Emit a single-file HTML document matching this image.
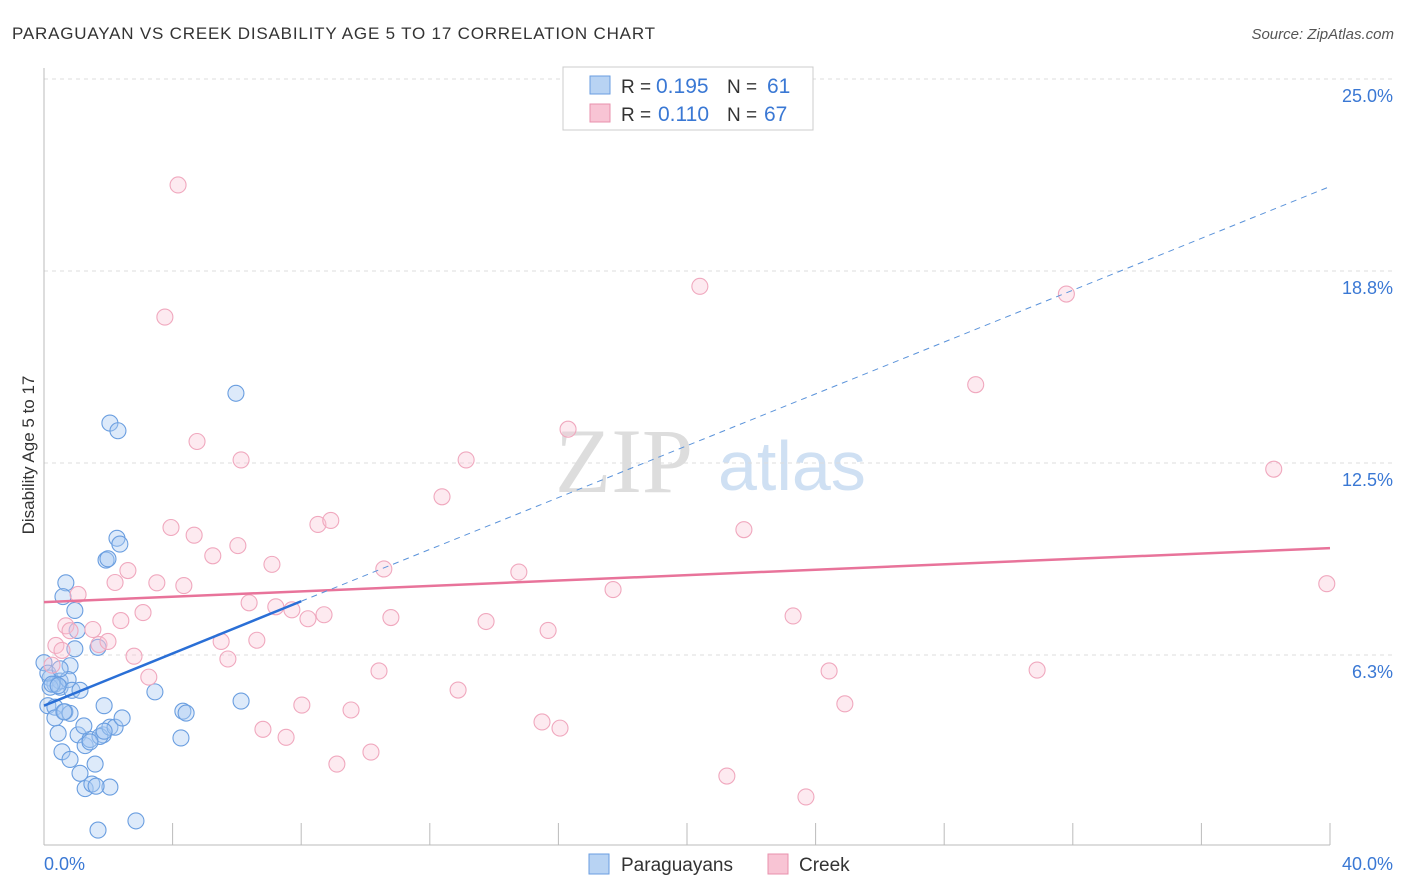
<!DOCTYPE html>
<html><head><meta charset="utf-8"><style>
body{margin:0;background:#fff;font-family:"Liberation Sans",sans-serif}
svg{display:block}
</style></head><body>
<svg id="c" width="1406" height="892">
<text x="12" y="39" font-size="17" fill="#333" textLength="643">PARAGUAYAN VS CREEK DISABILITY AGE 5 TO 17 CORRELATION CHART</text>
<text x="1394" y="39" font-size="15" fill="#555" text-anchor="end" font-style="italic">Source: ZipAtlas.com</text>
<text x="555" y="492" font-size="92" fill="#ddd" font-family="Liberation Serif,serif">ZIP</text>
<text x="718" y="490" font-size="70" fill="#cfe0f3">atlas</text>
<text transform="translate(34,455) rotate(-90)" font-size="17" fill="#333" text-anchor="middle">Disability Age 5 to 17</text>
<g id="grid"></g><g id="marks"></g>
<g>
<rect x="563" y="67" width="250" height="63" fill="#fff" stroke="#ccc"/>
<rect x="590" y="76" width="20" height="18" fill="#b8d3f3" stroke="#6a9ee0"/>
<rect x="590" y="104" width="20" height="18" fill="#f8c4d4" stroke="#e891ad"/>
<text x="621" y="93" font-size="19" fill="#333">R =</text><text x="656" y="93" font-size="21" fill="#3a78d4">0.195</text>
<text x="727" y="93" font-size="19" fill="#333">N =</text><text x="767" y="93" font-size="21" fill="#3a78d4">61</text>
<text x="621" y="121" font-size="19" fill="#333">R =</text><text x="658" y="121" font-size="21" fill="#3a78d4">0.110</text>
<text x="727" y="121" font-size="19" fill="#333">N =</text><text x="764" y="121" font-size="21" fill="#3a78d4">67</text>
</g>
<g>
<rect x="589" y="854" width="20" height="20" fill="#b8d3f3" stroke="#6a9ee0"/>
<text x="621" y="871" font-size="19" fill="#333">Paraguayans</text>
<rect x="768" y="854" width="20" height="20" fill="#f8c4d4" stroke="#e891ad"/>
<text x="799" y="871" font-size="19" fill="#333">Creek</text>
</g>
</svg>
<script>
const xTicks=[0,40];
const yTicks=[6.25,12.5,18.75,25];
const yTickLabels=["6.3%","12.5%","18.8%","25.0%"];
const paraX=[0,0.19,0.34,0.5,0.12,0.34,0.5,0.68,0.59,0.96,1.03,0.96,0.81,0.75,0.87,1.12,0.34,0.65,0.81,0.44,0.56,0.81,1.06,1.28,1.43,1.12,1.28,1.49,1.59,1.84,1.74,2.05,2.21,2.43,1.87,2.05,1.68,2.86,2.05,2.3,2.27,2.36,1.93,1.99,1.68,3.45,4.26,4.32,4.42,6.13,5.97,0.19,0.62,0.12,0.25,0.44,1.62,1.24,1.87,1.43,0.5];
const paraY=[6.0,5.5,5.3,5.2,4.6,4.55,5.4,8.6,8.15,7.7,7.05,6.45,5.9,5.45,5.1,5.1,4.2,4.4,4.35,3.7,3.1,2.85,3.65,3.3,3.5,2.4,1.9,2.05,2.7,3.65,3.6,3.9,3.9,4.2,4.6,1.95,0.55,0.85,13.8,13.55,10.05,9.86,9.34,9.38,6.5,5.05,3.55,4.42,4.36,4.75,14.77,5.2,4.4,5.66,5.3,5.25,1.98,3.94,3.77,3.42,5.8];
const creekX=[4.17,3.76,20.4,31.8,28.98,4.76,6.13,16.3,13.13,12.38,38.25,3.95,4.67,6.03,5.25,8.52,8.92,21.77,7.09,10.57,14.77,2.61,3.51,4.35,2.21,1.06,17.7,39.9,6.38,3.08,2.39,7.21,7.71,8.21,8.71,10.79,13.75,23.3,15.68,0.68,0.81,1.52,0.37,1.71,1.99,5.51,6.62,2.8,5.72,0.25,3.26,10.42,24.42,30.89,12.88,8.02,9.55,24.91,15.49,16.05,6.81,7.53,10.17,9.11,21.24,23.7,0.56];
const creekY=[21.55,17.25,18.25,18.0,15.05,13.2,12.6,13.6,12.6,11.4,12.3,10.4,10.15,9.81,9.48,10.5,10.63,10.33,9.2,9.05,8.95,9.0,8.6,8.51,8.61,8.22,8.38,8.57,7.95,7.63,7.37,7.82,7.72,7.43,7.56,7.47,7.34,7.52,7.05,7.2,7.04,7.08,6.56,6.59,6.69,6.69,6.73,6.21,6.12,5.92,5.53,5.73,5.73,5.76,5.11,4.62,4.46,4.66,4.07,3.87,3.83,3.57,3.09,2.7,2.31,1.63,6.4];
const paraFit=[[0,4.6],[8,8.0]], paraDash=[[8,8.0],[40,21.5]], creekFit=[[0,7.97],[40,9.73]];
const X=v=>44+v/40*1286, Y=v=>847-v*30.72;
const ns="http://www.w3.org/2000/svg";
function mk(t,a,p){const e=document.createElementNS(ns,t);for(const k in a)e.setAttribute(k,a[k]);p.appendChild(e);return e;}
const g=document.getElementById('grid'),m=document.getElementById('marks');
yTicks.forEach((t,i)=>{
const l=mk('line',{x1:44,x2:1394,y1:Y(t),y2:Y(t),stroke:'#ddd','stroke-dasharray':'4,4'},g);


const tx=mk('text',{x:1393,y:Y(t)+23,'font-size':18,fill:'#3a78d4','text-anchor':'end'},g);
tx.textContent=yTickLabels[i];


});
mk('line',{x1:44,x2:44,y1:68,y2:845,stroke:'#bbb'},g);
mk('line',{x1:44,x2:1330,y1:845,y2:845,stroke:'#bbb'},g);
for(let i=1;i<=10;i++){const l=mk('line',{x1:X(i*4),x2:X(i*4),y1:823,y2:845,stroke:'#bbb'},g);

}
xTicks.forEach((t,i)=>{const tx=mk('text',{x:i?1393:44,y:870,'font-size':18,fill:'#3a78d4','text-anchor':i?'end':'start'},g);
tx.textContent=t.toFixed(1)+'%';

});
paraX.forEach((v,i)=>{const c=mk('circle',{cx:X(v),cy:Y(paraY[i]),r:8,fill:'rgba(170,202,242,0.4)',stroke:'#6a9ee0','stroke-width':1.1},m);

});
creekX.forEach((v,i)=>{const c=mk('circle',{cx:X(v),cy:Y(creekY[i]),r:8,fill:'rgba(248,196,212,0.35)',stroke:'#f0a8be','stroke-width':1.1},m);

});
function ln(p,st,dash,name){const l=mk('line',{x1:X(p[0][0]),y1:Y(p[0][1]),x2:X(p[1][0]),y2:Y(p[1][1]),stroke:st,'stroke-width':dash?1:2.5},m);if(dash)l.setAttribute('stroke-dasharray','6,5');

}
ln(creekFit,'#e8739a',0,'creek-trend-line');
ln(paraDash,'#5b93da',1,'paraguayan-trend-extension');
ln(paraFit,'#2a6fd6',0,'paraguayan-trend-line');
</script>
</body></html>
